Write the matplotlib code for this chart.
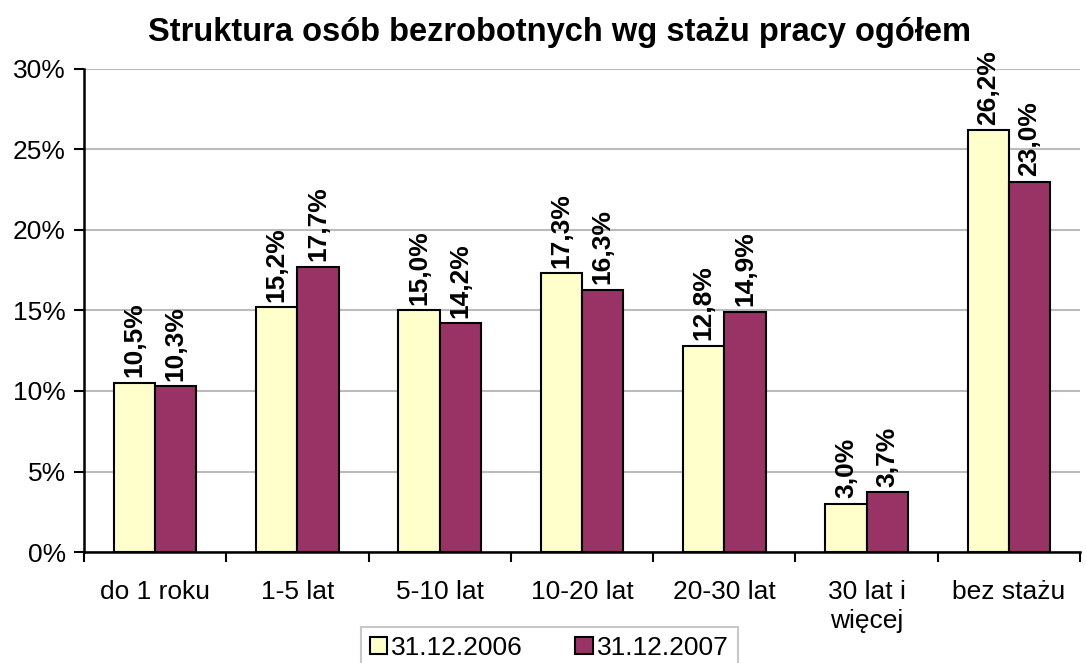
import numpy as np
import matplotlib.pyplot as plt
from matplotlib.ticker import FixedLocator, FuncFormatter

plt.rcParams['font.family'] = ['Liberation Sans', 'DejaVu Sans']

categories = ['do 1 roku', '1-5 lat', '5-10 lat', '10-20 lat', '20-30 lat', '30 lat i\nwięcej', 'bez stażu']
s2006 = [10.5, 15.2, 15.0, 17.3, 12.8, 3.0, 26.2]
s2007 = [10.3, 17.7, 14.2, 16.3, 14.9, 3.7, 23.0]
labels = ['31.12.2006', '31.12.2007']

fig = plt.figure(figsize=(10.86, 6.63), dpi=100)
ax = fig.add_axes([0.0773, 0.1674, 0.9172, 0.7286])

x = np.arange(len(categories))
w = 0.29
b1 = ax.bar(x - w / 2, s2006, w, color='#FFFFCC', edgecolor='black', linewidth=1.5, label=labels[0], zorder=3)
b2 = ax.bar(x + w / 2, s2007, w, color='#993366', edgecolor='black', linewidth=1.5, label=labels[1], zorder=3)

for bars, vals in ((b1, s2006), (b2, s2007)):
    for r, v in zip(bars, vals):
        ax.text(r.get_x() + r.get_width() / 2, v + 0.35, f'{v:.1f}%'.replace('.', ','),
                rotation=90, ha='center', va='bottom', fontsize=19, fontweight='bold',
                clip_on=False)

ax.set_xlim(-0.5, len(categories) - 0.5)
ax.set_ylim(0, 30)
ax.set_yticks(range(0, 31, 5))
ax.yaxis.set_major_formatter(FuncFormatter(lambda v, p: f'{v:.0f}%'))
ax.yaxis.grid(True, color='#BBBBBB', linewidth=1.5, zorder=0)

ax.set_xticks(x)
ax.set_xticklabels(categories, linespacing=1.3)
ax.xaxis.set_minor_locator(FixedLocator(np.arange(-0.5, len(categories), 1)))
ax.tick_params(axis='x', which='major', length=0, pad=20, labelsize=19)
ax.tick_params(axis='x', which='minor', length=7, width=1.5, direction='out')
ax.tick_params(axis='y', length=7, width=1.5, direction='out', labelsize=19, pad=6)

for s in ('top', 'right'):
    ax.spines[s].set_visible(False)
for s in ('left', 'bottom'):
    ax.spines[s].set_linewidth(1.8)

fig.text(0.515, 0.951, 'Struktura osób bezrobotnych wg stażu pracy ogółem',
         ha='center', va='center', fontsize=23.5, fontweight='bold')

leg = ax.legend(loc='upper center', bbox_to_anchor=(0.467, -0.127), ncol=2, frameon=True,
                fancybox=False, edgecolor='#BBBBBB', fontsize=19, handlelength=0.65, handleheight=0.65,
                handletextpad=0.15, columnspacing=2.0, borderpad=0.35)
leg.get_frame().set_linewidth(1.5)

fig.savefig('out.png', dpi=100)
